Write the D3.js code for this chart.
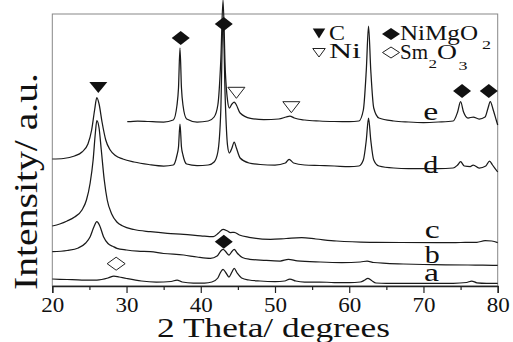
<!DOCTYPE html>
<html><head><meta charset="utf-8">
<script src="https://cdn.jsdelivr.net/npm/d3@7"></script>
<style>
html,body{margin:0;padding:0;background:#fff;}
svg{display:block;}
svg text{font-family:"Liberation Serif","Times New Roman",Tinos,Times,serif !important;fill:#111;}
</style></head>
<body>
<svg id="chart" width="513" height="342"></svg>
<script>
// ---- data (2θ in degrees, intensity in a.u.) ----
const xTicks = [20, 30, 40, 50, 60, 70, 80];
const xMinorTicks = [25, 35, 45, 55, 65, 75];
const sampleLabels = ["a", "b", "c", "d", "e"];

const traceA = [[20,7],[22,6.5],[24,6],[26,6],[27.5,8],[28.3,10],[29,9],[30,7.5],[32,5],[34,4],[36,4.5],[36.8,6],[37.5,4],[39,3],[40.5,3],[41.5,4],[42.3,8],[42.7,14],[43.0,16.7],[43.4,13],[43.8,9],[44.2,14],[44.5,17.7],[44.9,13],[45.5,8],[46.5,6],[48,5],[50,4.5],[51.3,5],[52.0,7],[52.8,5],[54,4],[56,4],[58,3.5],[60,3.5],[61.5,4],[62.1,6],[62.5,7.7],[63,5.5],[63.6,3],[65,2.7],[68,2.7],[70,2.7],[72,2.7],[74,2.7],[75.8,3.5],[76.5,5],[77.2,3.2],[78.5,2.7],[80,2.7]];

const traceB = [[20,34.3],[22,35.5],[23.5,38],[24.5,43],[25.1,49.3],[25.6,59],[26.0,64.3],[26.4,60],[26.9,49.3],[27.5,42.5],[28.2,39.5],[28.7,37.7],[30,36],[31.5,34.8],[33.2,34.3],[35,32.5],[37.7,31],[39.5,29],[41.3,27.7],[42.2,30],[42.7,35],[43.0,36.7],[43.4,34],[43.8,31],[44.2,34.5],[44.5,36.7],[44.9,33],[45.6,28.5],[46.6,26.7],[48.5,25.7],[50.7,25],[51.8,26.7],[53,25.2],[56.1,24],[59,23.5],[61.5,24],[62.4,25],[63.3,23.5],[65,22.7],[67.3,22],[70,21.5],[73,21.2],[76,21],[78,21],[80,20.7]];

const traceC = [[20,60],[21,62],[22,65],[23,69],[24,76],[24.6,86],[25.1,103],[25.5,126],[25.8,153],[26.0,165.3],[26.3,158],[26.6,136],[27.0,106],[27.4,86],[28.0,72],[28.7,64],[29.5,60],[31,56.5],[33.2,54.3],[35.5,52.7],[37.7,51.7],[40,50.2],[41.7,49.3],[42.4,53],[43.0,56.7],[43.6,55],[44.0,53.5],[44.5,53.7],[45.2,51],[46.5,48.7],[49.4,46.7],[51.5,47.5],[53.6,48.3],[55.5,47],[58.3,45],[62.8,43.7],[67,43.5],[71.8,43.3],[75,43.5],[77.2,43.7],[78.3,45.3],[79.2,45],[80,43.3]];

const traceD = [[20,127],[21.5,127.5],[23,130],[24,134],[24.8,142],[25.3,156],[25.7,176],[26.0,188.3],[26.3,182],[26.7,164],[27.2,146],[27.8,136],[28.5,130.5],[29.5,127],[31,124],[33,121.5],[35,120],[36.3,121],[36.8,131],[37.0,139],[37.2,162],[37.4,139],[37.6,131],[38.1,122],[39.5,120.5],[41,121],[41.8,124],[42.3,134],[42.7,176],[43.0,268],[43.3,186],[43.6,141],[43.85,133],[44.2,138],[44.5,144],[44.8,138],[45.3,128],[46.5,123],[48,121.5],[50,121],[51.4,123],[51.9,126.7],[52.5,123],[54,121],[56,120.5],[58,120],[60,119.3],[61.3,120],[61.9,126],[62.3,146],[62.6,168],[62.9,146],[63.3,126],[64,120],[66,118],[68,117.5],[70,117.5],[72,117.5],[74,118],[74.6,121],[75.0,124.3],[75.5,120],[76.3,119.5],[76.7,121],[77.5,118],[78.4,120],[78.9,125],[79.3,121],[80,114]];

const traceE = [[30.1,164.3],[31.5,165],[33,164.5],[35,164],[36.3,166],[36.8,181],[37.0,198],[37.2,238],[37.4,198],[37.6,181],[38.1,167],[39.5,164],[41,165],[41.8,169],[42.3,181],[42.7,226],[43.0,286],[43.3,216],[43.6,186],[43.85,178],[44.2,182],[44.5,184],[44.8,181],[45.3,173],[46.7,167.7],[48.5,166.5],[50.5,167],[51.5,169],[52.0,170],[52.6,168],[54,166],[56,165],[58,164.5],[60,164.3],[61.3,165],[61.9,176],[62.3,216],[62.6,260],[62.9,216],[63.3,178],[64,168],[66,165],[68,164],[70,163.5],[72,164],[74,165],[74.6,174],[75.0,184.3],[75.4,174],[76,168],[76.7,169],[77.5,167],[78.3,169],[78.7,178],[79.0,184.3],[79.4,176],[79.8,166],[80,161]];

// phase markers placed above peaks: [2θ, intensity]
const markC = [[26.2, 204]];                     // ▼ graphite C (top edge)
const markNiMgO2 = [[37.3, 248], [43.1, 262], [75.2, 195], [78.8, 195], [43.1, 44.3]]; // ◆
const markNi = [[44.8, 198.7], [52.2, 184.3]];   // ▽ Ni (top edge)
const markSm2O3 = [[28.6, 22.3]];                // ◇

// label positions: [2θ, intensity of baseline]
const labelPos = [[71.1, 5], [71.2, 23], [71.2, 48], [71.0, 113], [71.0, 166]];

// ---- layout ----
const svg = d3.select("#chart");
const x = d3.scaleLinear().domain([20, 80]).range([52.3, 497.7]);
const y = d3.scaleLinear().domain([0, 272]).range([286, 14]);

// frame
svg.append("rect").attr("x", x(20)).attr("y", y(272)).attr("width", x(80) - x(20)).attr("height", y(0) - y(272))
  .attr("fill", "none").attr("stroke", "#888").attr("stroke-width", 1);

// x axis
const ax = svg.append("g").attr("transform", `translate(0,${y(0)})`)
  .call(d3.axisBottom(x).tickValues(xTicks).tickSize(7).tickPadding(3).tickFormat(d3.format("d")));
ax.select(".domain").attr("stroke", "#222").attr("stroke-width", 1.3);
ax.selectAll(".tick line").attr("stroke", "#222").attr("stroke-width", 1.2);
ax.selectAll(".tick text").attr("font-size", 22).attr("fill", "#111")
  .attr("textLength", 23).attr("lengthAdjust", "spacingAndGlyphs");
const axm = svg.append("g").attr("transform", `translate(0,${y(0)})`)
  .call(d3.axisBottom(x).tickValues(xMinorTicks).tickSize(4).tickFormat(""));
axm.select(".domain").remove();
axm.selectAll(".tick line").attr("stroke", "#222").attr("stroke-width", 1.2);

// traces
const line = d3.line().x(d => x(d[0])).y(d => y(d[1])).curve(d3.curveMonotoneX);
[traceA, traceB, traceC, traceD, traceE].forEach(t => {
  svg.append("path").datum(t).attr("d", line).attr("fill", "none")
    .attr("stroke", "#1a1a1a").attr("stroke-width", 1.25).attr("stroke-linejoin", "round");
});

// markers
const diamond = (cx, cy, w, h) => `M${cx - w / 2},${cy}L${cx},${cy - h / 2}L${cx + w / 2},${cy}L${cx},${cy + h / 2}Z`;
const triDown = (cx, top, w, h) => `M${cx - w / 2},${top}L${cx + w / 2},${top}L${cx},${top + h}Z`;

markC.forEach(d => svg.append("path").attr("d", triDown(x(d[0]), y(d[1]), 18, 11)).attr("fill", "#111"));
markNiMgO2.forEach(d => svg.append("path").attr("d", diamond(x(d[0]), y(d[1]), 18, 14)).attr("fill", "#111"));
markNi.forEach(d => svg.append("path").attr("d", triDown(x(d[0]), y(d[1]), 17, 11)).attr("fill", "#fff").attr("stroke", "#222").attr("stroke-width", 1));
markSm2O3.forEach(d => svg.append("path").attr("d", diamond(x(d[0]), y(d[1]), 18, 13)).attr("fill", "#fff").attr("stroke", "#222").attr("stroke-width", 1));

// sample labels
sampleLabels.forEach((s, i) => {
  svg.append("text").attr("x", x(labelPos[i][0])).attr("y", y(labelPos[i][1]))
    .attr("text-anchor", "middle").attr("font-size", 25)
    .attr("textLength", 15).attr("lengthAdjust", "spacingAndGlyphs").text(s);
});

// legend
const lg = svg.append("g");
lg.append("path").attr("d", triDown(319, 28.5, 12.5, 10)).attr("fill", "#111");
lg.append("path").attr("d", triDown(319, 48.5, 12.5, 8.5)).attr("fill", "#fff").attr("stroke", "#222").attr("stroke-width", 1);
lg.append("path").attr("d", diamond(391, 34, 18, 12)).attr("fill", "#111");
lg.append("path").attr("d", diamond(391, 52.5, 17, 11)).attr("fill", "#fff").attr("stroke", "#222").attr("stroke-width", 1);
const lt = (tx, ty, s, fs, len) => {
  const t = lg.append("text").attr("x", tx).attr("y", ty).attr("font-size", fs).text(s);
  if (len) t.attr("textLength", len).attr("lengthAdjust", "spacingAndGlyphs");
};
lt(329, 40, "C", 21, 16);
lt(329, 58, "Ni", 21, 32);
lt(400, 40, "NiMgO", 21, 78);
lt(482, 48.5, "2", 13, 9);
lt(400, 59, "Sm", 21, 28);
lt(428.5, 68, "2", 13, 8.5);
lt(437, 59, "O", 21, 20);
lt(458.5, 70, "3", 13, 9);

// axis titles
svg.append("text").attr("x", 273.5).attr("y", 337).attr("text-anchor", "middle").attr("font-size", 28)
  .attr("textLength", 233).attr("lengthAdjust", "spacingAndGlyphs").text("2 Theta/ degrees");
svg.append("text").attr("transform", "translate(37,181.5) rotate(-90)").attr("text-anchor", "middle").attr("font-size", 34)
  .attr("textLength", 217).attr("lengthAdjust", "spacingAndGlyphs").text("Intensity/ a.u.");
</script>
</body></html>
